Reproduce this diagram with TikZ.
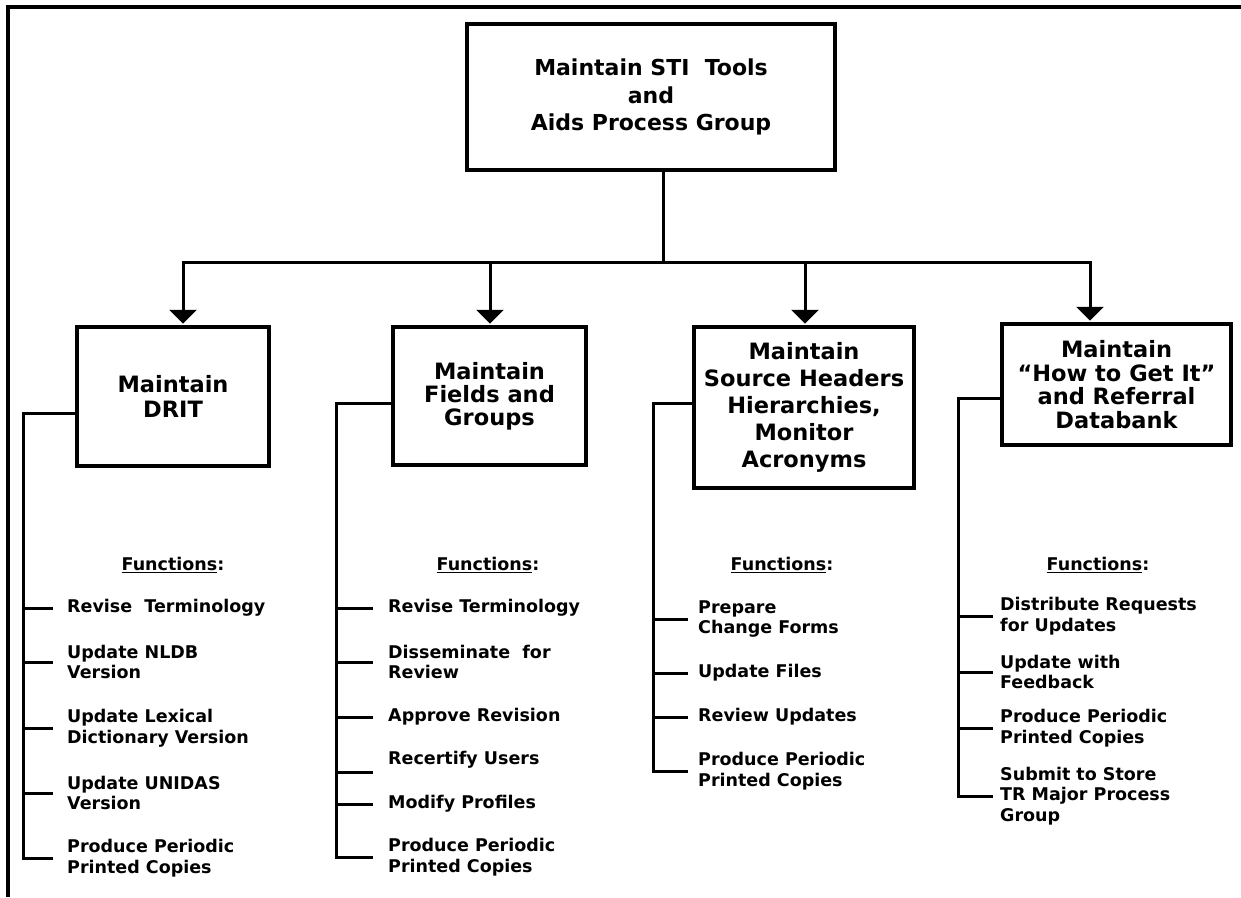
\documentclass[tikz,border=0pt]{standalone}
\usepackage{fontspec}
\setmainfont{DejaVu Sans}
\usetikzlibrary{arrows.meta}
\begin{document}
\begin{tikzpicture}[x=1pt,y=-1pt,
  box/.style={draw,line width=3.5pt,inner sep=0pt,align=center,
    font=\bfseries\fontsize{22.5}{25}\selectfont},
  wire/.style={line width=3pt},
  feed/.style={wire,-{Triangle[width=27pt,length=14pt]},shorten >=1.5pt},
  item/.style={anchor=west,inner sep=0pt,align=left,
    font=\bfseries\fontsize{17.5}{20.5}\selectfont},
  fnhead/.style={inner sep=0pt,font=\bfseries\fontsize{17.5}{20.5}\selectfont},
  frame/.style={line width=4.5pt}]
\useasboundingbox (0,0) rectangle (1241,897);

% outer frame
\draw[frame] (1241,7) -- (8,7) -- (8,897);

% process boxes
\node[box,minimum width=368pt,minimum height=146pt,
  font=\bfseries\fontsize{22}{27.5}\selectfont] (top) at (651,97)
  {Maintain STI\hspace{0.35em} Tools\\and\\Aids Process Group};
\node[box,minimum width=192pt,minimum height=139pt] (b1) at (173,396.5)
  {Maintain\\DRIT};
\node[box,minimum width=193pt,minimum height=138pt,
  font=\bfseries\fontsize{22.5}{23}\selectfont] (b2) at (489.5,396)
  {Maintain\\Fields and\\Groups};
\node[box,minimum width=220pt,minimum height=161pt,
  font=\bfseries\fontsize{22.5}{27}\selectfont] (b3) at (804,407.5)
  {Maintain\\Source Headers\\Hierarchies,\\Monitor\\Acronyms};
\node[box,minimum width=229pt,minimum height=121pt,
  font=\bfseries\fontsize{22.5}{23.5}\selectfont] (b4) at (1116.5,384.5)
  {Maintain\\“How to Get It”\\and Referral\\Databank};

% distribution bus
\coordinate (hub) at (663,262);
\coordinate (a1) at (183,262);
\coordinate (a2) at (490,262);
\coordinate (a3) at (805,262);
\coordinate (a4) at (1090,262);
\draw[wire] (top.south -| hub) -- (hub);
\draw[wire] (a2) -- (a3);
\draw[feed] (a2) -- (a1) -- (a1 |- b1.north);
\draw[feed] (a2) -- (a2 |- b2.north);
\draw[feed] (a3) -- (a3 |- b3.north);
\draw[feed] (a3) -- (a4) -- (a4 |- b4.north);

% function headings
\node[fnhead] (f1) at (173,565) {\underline{Functions}:};
\node[fnhead] (f2) at (488,565) {\underline{Functions}:};
\node[fnhead] (f3) at (782,565) {\underline{Functions}:};
\node[fnhead] (f4) at (1098,565) {\underline{Functions}:};

% functions of DRIT
\node[item] (i11) at (67,608) {Revise\hspace{0.35em} Terminology};
\node[item] (i12) at (67,662) {Update NLDB\\Version};
\node[item] (i13) at (67,728) {Update Lexical\\Dictionary Version};
\node[item] (i14) at (67,793) {Update UNIDAS\\Version};
\node[item] (i15) at (67,858) {Produce Periodic\\Printed Copies};
\coordinate (s1) at (23,413);
\draw[wire] (b1.west |- s1) -- (s1) -- (s1 |- i15.west) -- ([xshift=-14pt]i15.west);
\foreach \n in {i11,i12,i13,i14}
  \draw[wire] (s1 |- \n.west) -- ([xshift=-14pt]\n.west);

% functions of fields and groups
\node[item] (i21) at (388,608) {Revise Terminology};
\node[item] (i22) at (388,662) {Disseminate\hspace{0.35em} for\\Review};
\node[item] (i23) at (388,717) {Approve Revision};
\node[item] (i24) at (388,760) {Recertify Users};
\node[item] (i25) at (388,804) {Modify Profiles};
\node[item] (i26) at (388,857) {Produce Periodic\\Printed Copies};
\coordinate (s2) at (336,403);
\draw[wire] (b2.west |- s2) -- (s2) -- (s2 |- i26.west) -- ([xshift=-15pt]i26.west);
\foreach \n in {i21,i22,i23,i25}
  \draw[wire] (s2 |- \n.west) -- ([xshift=-15pt]\n.west);
\draw[wire] ([yshift=-12pt]s2 |- i24.west) -- ([xshift=-15pt,yshift=-12pt]i24.west);

% functions of source headers
\node[item] (i31) at (698,619) {Prepare\\Change Forms};
\node[item] (i32) at (698,673) {Update Files};
\node[item] (i33) at (698,717) {Review Updates};
\node[item] (i34) at (698,771) {Produce Periodic\\Printed Copies};
\coordinate (s3) at (653,403);
\draw[wire] (b3.west |- s3) -- (s3) -- (s3 |- i34.west) -- ([xshift=-10pt]i34.west);
\foreach \n in {i31,i32,i33}
  \draw[wire] (s3 |- \n.west) -- ([xshift=-10pt]\n.west);

% functions of referral databank
\node[item] (i41) at (1000,616) {Distribute Requests\\for Updates};
\node[item] (i42) at (1000,672) {Update with\\Feedback};
\node[item] (i43) at (1000,728) {Produce Periodic\\Printed Copies};
\node[item] (i44) at (1000,796) {Submit to Store\\TR Major Process\\Group};
\coordinate (s4) at (958,398);
\draw[wire] (b4.west |- s4) -- (s4) -- (s4 |- i44.west) -- ([xshift=-7pt]i44.west);
\foreach \n in {i41,i42,i43}
  \draw[wire] (s4 |- \n.west) -- ([xshift=-7pt]\n.west);
\end{tikzpicture}
\end{document}
